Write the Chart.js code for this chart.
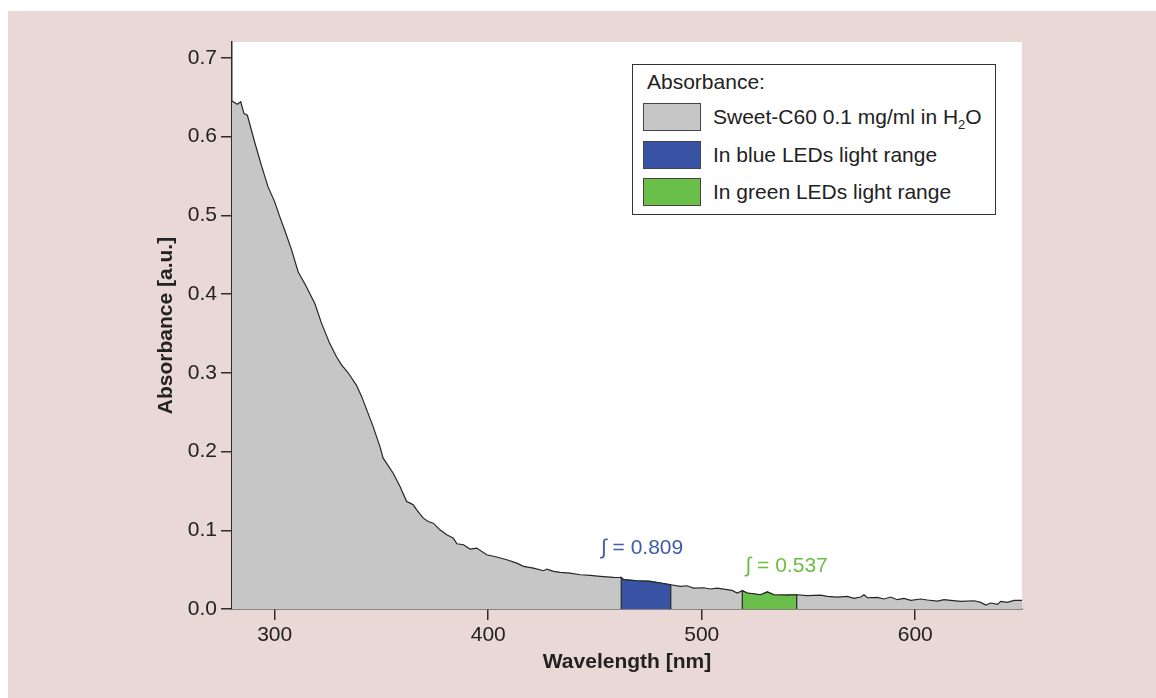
<!DOCTYPE html>
<html>
<head>
<meta charset="utf-8">
<script src="https://cdn.jsdelivr.net/npm/chart.js@4.4.1/dist/chart.umd.min.js"></script>
<style>
  body { margin: 0; background: #fff; font-family: "Liberation Sans", Arial, sans-serif; }
  #panel { position: absolute; left: 8px; top: 11px; width: 1148px; height: 687px; background: #ead8d7; }
  #chart { position: absolute; left: 0; top: 0; }
  #legend { position: absolute; left: 624px; top: 53px; width: 362px; height: 149px;
            border: 1px solid #333; background: #fff; color: #222; font-size: 21px; }
  #legend .title { position: absolute; left: 14px; top: 5px; line-height: 24px; }
  #legend .row { position: absolute; left: 10px; height: 28px; display: flex; align-items: center; }
  #legend .sw { width: 56px; height: 26px; border: 1px solid #444; margin-right: 12px; }
  #legend sub { font-size: 13px; vertical-align: -5px; line-height: 0; }
</style>
</head>
<body>
<div id="panel">
  <canvas id="chart" width="1148" height="687"></canvas>
  <div id="legend"></div>
</div>
<script>
// spectrum
const wavelength = [280, 282.5, 284.1, 285.6, 287.2, 290.6, 293.8, 296.9, 300, 302.4, 304.7, 307.9, 311, 314.1,
  318.8, 321.9, 325.8, 329, 331.3, 334.4, 338.3, 340.7, 346.1, 349.3, 350.8, 355.5, 358.7, 361.8, 363.4, 364.9,
  366.5, 369.6, 371.9, 374.3, 377.4, 380.6, 383.7, 385.3, 388.4, 391.5, 394.6, 399.3, 404, 408.7, 413.4, 416.5,
  421.2, 425.9, 427.5, 430.6, 433.7, 438.4, 443.1, 447.8, 452.5, 458.8, 462.3, 463.4, 469.7, 475.9, 480.6, 485.5,
  490, 493.1, 496.2, 500.9, 504.1, 507.2, 511.9, 514.2, 516.6, 519, 521.3, 527.6, 530.7, 533.8, 540, 544.5,
  549.4, 555.7, 558.8, 563.5, 568.2, 571.3, 574.4, 576, 577.6, 582.2, 585.3, 588.5, 591.6, 594.7, 597.9,
  602.6, 605.7, 610.4, 613.5, 616.6, 621.3, 627.6, 630.7, 633, 635.4, 638.5, 640.1, 643.2, 646.3, 650];
const absorbance = [0.645, 0.641, 0.644, 0.629, 0.627, 0.593, 0.563, 0.536, 0.517, 0.498, 0.481, 0.456, 0.428, 0.413,
  0.388, 0.363, 0.337, 0.320, 0.310, 0.300, 0.284, 0.270, 0.2316, 0.2062, 0.1915, 0.1724, 0.1555, 0.1364, 0.1344, 0.1323,
  0.1259, 0.1154, 0.1111, 0.1090, 0.1005, 0.0942, 0.0900, 0.0828, 0.0816, 0.0761, 0.0774, 0.0689, 0.0660, 0.0625, 0.0583, 0.0541,
  0.0520, 0.0486, 0.0507, 0.0477, 0.0464, 0.0456, 0.0435, 0.0426, 0.0414, 0.0401, 0.0400, 0.0372, 0.0359, 0.0350, 0.0330, 0.0308,
  0.0287, 0.0295, 0.0266, 0.0270, 0.0254, 0.0266, 0.0245, 0.0236, 0.0203, 0.0232, 0.0203, 0.0181, 0.0216, 0.0181, 0.0177, 0.0181,
  0.0169, 0.0177, 0.0160, 0.0152, 0.0160, 0.0135, 0.0152, 0.0181, 0.0143, 0.0148, 0.0127, 0.0152, 0.0118, 0.0135, 0.0110,
  0.0127, 0.0114, 0.0101, 0.0118, 0.0110, 0.0097, 0.0105, 0.0084, 0.0051, 0.0076, 0.0059, 0.0097, 0.0084, 0.0110, 0.0110];

const bandStart = [462.3, 519];
const bandEnd = [485.5, 544.5];
const bandIntegral = ['0.809', '0.537'];

const legendTitle = 'Absorbance:';
const legendLabels = ['Sweet-C60 0.1 mg/ml in H<sub>2</sub>O', 'In blue LEDs light range', 'In green LEDs light range'];

const xTicks = [300, 400, 500, 600];
const xTickLabels = ['300', '400', '500', '600'];
const yTicks = [0, 0.1, 0.2, 0.3, 0.4, 0.5, 0.6, 0.7];
const yTickLabels = ['0.0', '0.1', '0.2', '0.3', '0.4', '0.5', '0.6', '0.7'];

const GREY = '#c6c6c6', BLUE = '#3853a3', GREEN = '#6abf4a';
const textColors = ['#3f5ba9', '#6cbe45'];
const FONT = '"Liberation Sans", Arial, sans-serif';

const spectrum = wavelength.map((w, i) => ({ x: w, y: absorbance[i] }));
const bandData = (i) => [
  { x: bandStart[i], y: 0 },
  ...spectrum.filter(p => p.x >= bandStart[i] && p.x <= bandEnd[i]),
  { x: bandEnd[i], y: 0 }
];

// legend (html)
const leg = document.getElementById('legend');
leg.innerHTML = '<div class="title">' + legendTitle + '</div>' +
  legendLabels.map((t, i) => '<div class="row" style="top:' + [37.5, 75.5, 113][i] + 'px">' +
    '<div class="sw" style="background:' + [GREY, BLUE, GREEN][i] + '"></div><span>' + t + '</span></div>').join('');

const plotBg = {
  id: 'plotBg',
  beforeDraw(chart) {
    const { ctx, chartArea: a } = chart;
    ctx.save();
    ctx.fillStyle = '#fff';
    ctx.fillRect(a.left, a.top, a.right - a.left, a.bottom - a.top);
    ctx.restore();
  }
};

// where the integral labels sit (data units)
const labelAt = [[452.8, 0.0697], [520.5, 0.0464]];
const integrals = {
  id: 'integrals',
  afterDatasetsDraw(chart) {
    const { ctx, scales: { x, y } } = chart;
    ctx.save();
    ctx.font = '21px ' + FONT;
    ctx.textBaseline = 'alphabetic';
    bandIntegral.forEach((v, i) => {
      ctx.fillStyle = textColors[i];
      ctx.fillText('\u222B = ' + v, x.getPixelForValue(labelAt[i][0]), y.getPixelForValue(labelAt[i][1]));
    });
    ctx.restore();
  }
};

const axisStyle = {
  grid: { drawOnChartArea: false, drawTicks: true, tickLength: 11, color: '#2d2d2d', lineWidth: 1.5 },
  border: { display: true, color: '#2d2d2d', width: 1.5 },
  z: 1
};

new Chart(document.getElementById('chart'), {
  type: 'line',
  data: {
    datasets: [
      { data: bandData(0), backgroundColor: BLUE, borderColor: '#262626', borderWidth: 1.2, fill: 'origin', pointRadius: 0 },
      { data: bandData(1), backgroundColor: GREEN, borderColor: '#262626', borderWidth: 1.2, fill: 'origin', pointRadius: 0 },
      { data: spectrum, backgroundColor: GREY, borderColor: '#262626', borderWidth: 1.2, fill: 'origin', pointRadius: 0 }
    ]
  },
  options: {
    responsive: false,
    animation: false,
    devicePixelRatio: 1,
    layout: { padding: { top: 31, right: 134, left: 0, bottom: 0 } },
    plugins: { legend: { display: false }, tooltip: { enabled: false } },
    scales: {
      x: {
        ...axisStyle,
        type: 'linear', min: 280, max: 650,
        afterBuildTicks: s => { s.ticks = xTicks.map(v => ({ value: v })); },
        afterFit: s => { s.height = 89; },
        ticks: { padding: 3, color: '#222', font: { family: FONT, size: 21 }, callback: v => xTickLabels[xTicks.indexOf(v)] },
        title: { display: true, text: 'Wavelength [nm]', color: '#222', font: { family: FONT, size: 21, weight: 'bold' }, padding: { top: 0, bottom: 23 } }
      },
      y: {
        ...axisStyle,
        type: 'linear', min: 0, max: 0.72,
        afterBuildTicks: s => { s.ticks = yTicks.map(v => ({ value: v })); },
        afterFit: s => { s.width = 224; },
        ticks: { padding: 4, color: '#222', font: { family: FONT, size: 21 }, callback: v => yTickLabels[yTicks.indexOf(v)] },
        title: { display: true, text: 'Absorbance [a.u.]', color: '#222', font: { family: FONT, size: 21, weight: 'bold' }, padding: { top: 146, bottom: 0 } }
      }
    }
  },
  plugins: [plotBg, integrals]
});
</script>
</body>
</html>
